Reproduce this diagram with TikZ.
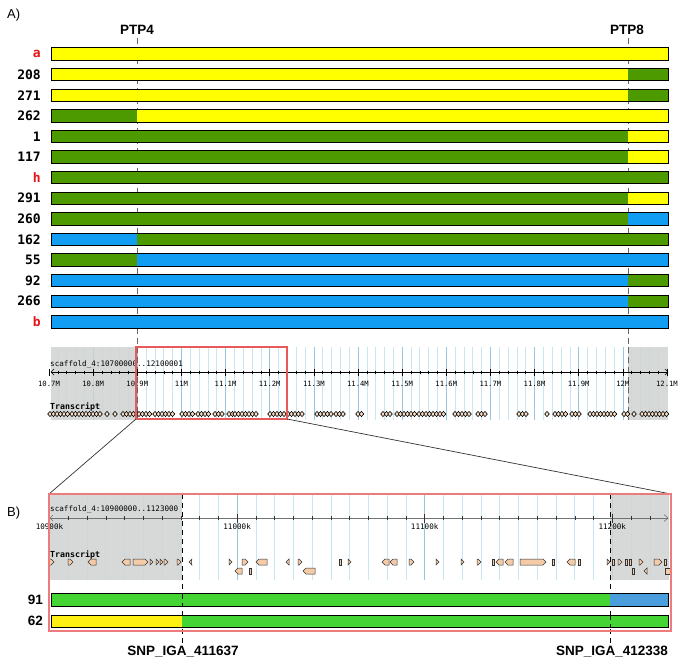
\documentclass[tikz,border=0pt]{standalone}
\usepackage{fontspec}
\setmainfont{Liberation Sans}
\newfontfamily\dvmono{DejaVu Sans Mono}
\usetikzlibrary{arrows.meta}
\definecolor{aY}{RGB}{255,255,0}
\definecolor{aG}{RGB}{77,153,0}
\definecolor{aB}{RGB}{17,158,242}
\definecolor{bY}{RGB}{255,240,20}
\definecolor{bG}{RGB}{68,212,52}
\definecolor{bB}{RGB}{74,158,219}
\definecolor{greyshade}{RGB}{208,211,211}
\definecolor{vlin}{RGB}{198,232,242}
\definecolor{vlinD}{RGB}{150,200,225}
\definecolor{rowred}{RGB}{230,20,20}
\definecolor{boxred}{RGB}{232,90,90}
\definecolor{peach}{RGB}{245,203,167}
\newcommand\abar[4]{%
  \fill[#2] (51,#1-6.25) rectangle (137,#1+6.25);
  \fill[#3] (137,#1-6.25) rectangle (628,#1+6.25);
  \fill[#4] (628,#1-6.25) rectangle (668,#1+6.25);
  \draw[barline] (51,#1-6.25) rectangle (668,#1+6.25);}
\newcommand\featR[3]{\filldraw[feat] (#1,#3-3)--(#2-3,#3-3)--(#2,#3)--(#2-3,#3+3)--(#1,#3+3)--cycle;}
\newcommand\featL[3]{\filldraw[feat] (#1,#3)--(#1+3,#3-3)--(#2,#3-3)--(#2,#3+3)--(#1+3,#3+3)--cycle;}
\newcommand\featB[3]{\filldraw[feat] (#1,#3-3) rectangle (#2,#3+3);}
\begin{document}
\begin{tikzpicture}[x=1pt,y=-1pt,
  barline/.style={draw=black,line width=0.8pt},
  rowlab/.style={anchor=east,inner sep=0pt,font=\dvmono\bfseries\fontsize{13}{13}\selectfont},
  redlab/.style={rowlab,text=rowred},
  blab/.style={anchor=east,inner sep=0pt,font=\bfseries\fontsize{13.5}{13.5}\selectfont},
  marklab/.style={inner sep=0pt,font=\bfseries\fontsize{13.5}{13.5}\selectfont},
  panlab/.style={anchor=west,inner sep=0pt,font=\fontsize{13}{13}\selectfont},
  smallmono/.style={inner sep=0pt,font=\dvmono\fontsize{7.6}{7.6}\selectfont},
  ticklab/.style={inner sep=0pt,font=\dvmono\fontsize{7.2}{7.2}\selectfont},
  trlab/.style={anchor=west,inner sep=0pt,font=\dvmono\bfseries\fontsize{8.3}{8.3}\selectfont},
  dashA/.style={draw=black!60,line width=0.8pt,dash pattern=on 6pt off 4pt},
  dashB/.style={draw=black,line width=1pt,dash pattern=on 5pt off 4pt},
  feat/.style={fill=peach,draw=black!80,line width=0.5pt},
  dia/.style={fill=peach!60,draw=black,line width=0.6pt},
  zoomline/.style={draw=black!80,line width=0.7pt}]
\useasboundingbox (0,0) rectangle (685,666);
\fill[white] (0,0) rectangle (685,666);

% ---------------- Panel A ----------------
\node[panlab] (labA) at (7,15) {A)};
\node[marklab] (ptp4) at (137,30) {PTP4};
\node[marklab] (ptp8) at (627,30) {PTP8};
\coordinate (d4end) at (137,420);
\coordinate (d8end) at (628,420);
\draw[dashA] (ptp4.south) ++(0,3) -- (d4end);
\draw[dashA] (ptp8.south) ++(1,3) -- (d8end);

\abar{54}{aY}{aY}{aY}
\abar{74.6}{aY}{aY}{aG}
\abar{95.2}{aY}{aY}{aG}
\abar{115.8}{aG}{aY}{aY}
\abar{136.4}{aG}{aG}{aY}
\abar{157}{aG}{aG}{aY}
\abar{177.6}{aG}{aG}{aG}
\abar{198.2}{aG}{aG}{aY}
\abar{218.8}{aG}{aG}{aB}
\abar{239.4}{aB}{aG}{aG}
\abar{260}{aG}{aB}{aB}
\abar{280.6}{aB}{aB}{aG}
\abar{301.2}{aB}{aB}{aG}
\abar{321.8}{aB}{aB}{aB}

\node[redlab] (ra) at (41,54) {a};
\node[rowlab] (r208) at (41,74.6) {208};
\node[rowlab] (r271) at (41,95.2) {271};
\node[rowlab] (r262) at (41,115.8) {262};
\node[rowlab] (r1) at (41,136.4) {1};
\node[rowlab] (r117) at (41,157) {117};
\node[redlab] (rh) at (41,177.6) {h};
\node[rowlab] (r291) at (41,198.2) {291};
\node[rowlab] (r260) at (41,218.8) {260};
\node[rowlab] (r162) at (41,239.4) {162};
\node[rowlab] (r55) at (41,260) {55};
\node[rowlab] (r92) at (41,280.6) {92};
\node[rowlab] (r266) at (41,301.2) {266};
\node[redlab] (rb) at (41,321.8) {b};

% scaffold panel A
\foreach \i in {1,...,69} {
  \draw[vlin,line width=0.6pt] ({49+8.828*\i},347) -- ++(0,73);
}
\foreach \k in {1,...,13} {
  \draw[vlinD,line width=0.6pt] ({49+44.14*\k},347) -- ++(0,73);
}
\fill[greyshade,opacity=0.85] (51,347) rectangle (137,420);
\fill[greyshade,opacity=0.85] (628,347) rectangle (668,420);
\draw[dashA] (137,347) -- (137,420);
\draw[dashA] (628,347) -- (628,420);

\node[smallmono,anchor=west] (scafA) at (50,364) {scaffold\_4:10700000..12100001};
\coordinate (axA1) at (51,372);
\coordinate (axA2) at (668,372);
\draw[black,line width=0.6pt] (axA1) -- (axA2);
\draw[black,line width=0.6pt] (54,369) -- (51,372) -- (54,375);
\draw[black,line width=0.6pt] (665,369) -- (668,372) -- (665,375);
\foreach \i in {1,...,69} {
  \draw[black,line width=0.5pt] ({49+8.828*\i},370.5) -- ++(0,3);
}
\foreach \k in {0,...,14} {
  \draw[black,line width=0.6pt] ({49+44.14*\k},368.5) -- ++(0,7);
}
\foreach \lab [count=\k from 0] in {10.7M,10.8M,10.9M,11M,11.1M,11.2M,11.3M,11.4M,11.5M,11.6M,11.7M,11.8M,11.9M,12M,12.1M} {
  \node[ticklab] at ({49+44.14*\k},383.5) {\lab};
}
\node[trlab] (trA) at (50,406.5) {Transcript};
\foreach \s/\n in {50/6,72/9,107/1,115/1,123/5,139/4,155/6,182/4,198/4,215/3,229/2,235/7,270/5,288/5,317/5,336/3,358/2,383/3,397/6,419/8,455/5,478/3,519/3,547/1,555/4,572/3,590/8,624/2,634/1,642/8} {
  \foreach \i in {1,...,\n} {
    \pgfmathsetmacro\xx{\s+3.5*(\i-1)}
    \draw[dia] (\xx-2.3,414) -- (\xx,411.4) -- (\xx+2.3,414) -- (\xx,416.6) -- cycle;
  }
}

% red zoom rectangle A
\coordinate (rAtl) at (136,347);
\coordinate (rAbr) at (287,419);
\coordinate (rAbl) at (136,419);
\draw[boxred,line width=1.1pt] (rAtl) rectangle (rAbr);

% ---------------- Panel B ----------------
\node[panlab] (labB) at (7,513) {B)};
\coordinate (rBtl) at (49,494);
\coordinate (rBtr) at (671,494);
\coordinate (rBbr) at (671,631);
\draw[zoomline] (rAbl) -- (rBtl);
\draw[zoomline] (rAbr) -- (rBtr);

\foreach \i in {1,...,33} {
  \draw[vlin,line width=0.6pt] ({49.5+18.76*\i},494) -- ++(0,86);
}
\foreach \k in {1,2,3} {
  \draw[vlinD,line width=0.6pt] ({49.5+187.6*\k},494) -- ++(0,86);
}
\fill[greyshade,opacity=0.85] (49,494) rectangle (182,580);
\fill[greyshade,opacity=0.85] (610,494) rectangle (669,580);

\node[smallmono,anchor=west] (scafB) at (50,509) {scaffold\_4:10900000..1123000};
\coordinate (axB1) at (49,518);
\coordinate (axB2) at (668,518);
\draw[black!55,line width=0.8pt] (axB1) -- (axB2);
\draw[black!55,line width=0.6pt] (53,515) -- (50,518) -- (53,521);
\draw[black!55,line width=0.6pt] (664,514.5) -- (668,518) -- (664,521.5);
\foreach \i in {1,...,32} {
  \draw[black!80,line width=0.5pt] ({49.5+18.76*\i},516) -- ++(0,4);
}
\foreach \k in {0,...,3} {
  \draw[black!80,line width=0.6pt] ({49.5+187.6*\k},513.5) -- ++(0,9);
}
\foreach \lab [count=\k from 0] in {10900k,11000k,11100k,11200k} {
  \node[smallmono] at ({49.5+187.6*\k},527) {\lab};
}
\node[trlab] (trB) at (50,555) {Transcript};

% transcript features, row 1 (y=562) and row 2 (y=571)
\featR{49}{54}{562}
\featR{68}{73}{562}
\featL{88}{96}{562}
\featL{122}{130}{562}
\featR{133}{148}{562}
\featR{150}{153}{562}
\featR{156}{159}{562}
\featR{160}{163}{562}
\featR{164}{168}{562}
\featR{177}{181}{562}
\featL{189}{191.5}{562}
\featR{229}{232}{562}
\featR{242}{248}{562}
\featL{256}{267}{562}
\featL{235}{242}{571}
\featB{249}{251.5}{571}
\featL{286}{289}{562}
\featR{298}{302}{562}
\featL{303}{315}{571}
\featB{339}{341.5}{562}
\featR{348}{351}{562}
\featL{382}{389}{562}
\featL{390}{397}{562}
\featR{409}{414}{562}
\featR{436}{439}{562}
\featR{461}{464}{562}
\featR{477}{481}{562}
\featB{492}{494}{562}
\featL{496}{503}{562}
\featL{505}{513}{562}
\featR{520}{546}{562}
\featB{552}{554.5}{562}
\featL{567}{575}{562}
\featB{578}{580.5}{562}
\featR{607}{610}{562}
\featB{612}{614.5}{562}
\featR{618}{622}{562}
\featB{625}{627}{562}
\featB{629}{631}{562}
\featR{639}{643}{562}
\featB{632}{634.5}{571}
\featL{644}{647}{571}
\featR{654}{662}{562}
\featB{664}{666}{562}
\featB{665}{670}{571}

% dashed SNP lines
\node[marklab] (snp1) at (183,652) {SNP\_IGA\_411637};
\node[marklab] (snp2) at (612,652) {SNP\_IGA\_412338};
\coordinate (s1top) at (182,494);
\coordinate (s2top) at (610,494);
\draw[dashB] (s1top) -- (snp1.north -| s1top);
\draw[dashB] (s2top) -- (snp2.north -| s2top);

% bars B
\fill[bG] (51,593.5) rectangle (610,606);
\fill[bB] (610,593.5) rectangle (668,606);
\draw[barline] (51,593.5) rectangle (668,606);
\fill[bY] (51,615) rectangle (182,627.5);
\fill[bG] (182,615) rectangle (668,627.5);
\draw[barline] (51,615) rectangle (668,627.5);
\draw[dashB] (182,593.5) -- (182,606);
\draw[dashB] (610,615) -- (610,627.5);
\node[blab] (r91) at (43,599.7) {91};
\node[blab] (r62) at (43,621.3) {62};

\draw[boxred!80,line width=1.1pt] (rBtl) rectangle (rBbr);
\end{tikzpicture}
\end{document}
